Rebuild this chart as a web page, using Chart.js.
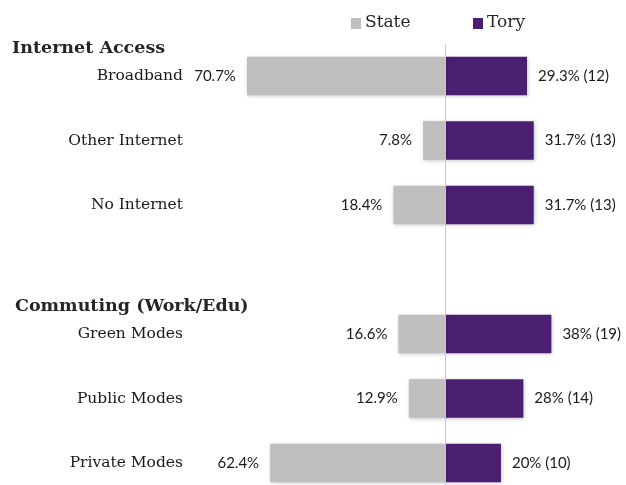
<!DOCTYPE html>
<html lang="en">
<head>
    <meta charset="UTF-8">
    <title>State vs Tory</title>
    <script src="https://cdn.jsdelivr.net/npm/chart.js"></script>
    <style>
        body {
            margin: 0;
            background: #fff;
        }
        #wrap {
            position: relative;
            width: 626px;
            height: 485px;
        }
    </style>
</head>
<body>
    <div id="wrap"><canvas id="chart"></canvas></div>

    <script>
        // data
        const categories = ['Broadband', 'Other Internet', 'No Internet', '', 'Green Modes', 'Public Modes', 'Private Modes'];
        const statePct = [70.7, 7.8, 18.4, null, 16.6, 12.9, 62.4];
        const toryPct = [29.3, 31.7, 31.7, null, 38, 28, 20];
        const toryCount = [12, 13, 13, null, 19, 14, 10];
        const groups = [
            { title: 'Internet Access', row: 0 },
            { title: 'Commuting (Work/Edu)', row: 4 }
        ];

        const grey = '#BFBFBF';
        const purple = '#4A1F72';
        const serif = '"DejaVu Serif", serif';

        // soft shadow under the bars
        const shadowPlugin = {
            id: 'barShadow',
            beforeDatasetsDraw(chart) {
                const ctx = chart.ctx;
                ctx.save();
                ctx.shadowColor = 'rgba(0,0,0,0.22)';
                ctx.shadowBlur = 4;
                ctx.shadowOffsetX = 1;
                ctx.shadowOffsetY = 1;
            },
            afterDatasetsDraw(chart) {
                chart.ctx.restore();
            }
        };

        // centre line, value labels, group titles and legend
        const decoPlugin = {
            id: 'deco',
            afterDraw(chart) {
                const ctx = chart.ctx;
                const x = chart.scales.x;
                const y = chart.scales.y;
                const x0 = x.getPixelForValue(0);

                ctx.save();
                ctx.strokeStyle = '#C6C6C6';
                ctx.lineWidth = 1;
                ctx.beginPath();
                ctx.moveTo(Math.round(x0) + 0.5, 44);
                ctx.lineTo(Math.round(x0) + 0.5, chart.height);
                ctx.stroke();

                ctx.font = '15px Lato';
                ctx.fillStyle = '#1a1a1a';
                ctx.textBaseline = 'middle';
                categories.forEach((c, i) => {
                    if (statePct[i] == null) return;
                    const yy = y.getPixelForValue(i);
                    ctx.textAlign = 'right';
                    ctx.fillText(statePct[i] + '%', x.getPixelForValue(-statePct[i]) - 11, yy);
                    ctx.textAlign = 'left';
                    ctx.fillText(toryPct[i] + '% (' + toryCount[i] + ')', x.getPixelForValue(toryPct[i]) + 11, yy);
                });

                ctx.font = 'bold 17.5px ' + serif;
                ctx.fillStyle = '#262626';
                ctx.textAlign = 'left';
                groups.forEach((g, k) => {
                    ctx.fillText(g.title, k === 0 ? 12 : 15, y.getPixelForValue(g.row) - 28);
                });

                // legend
                ctx.font = '17px ' + serif;
                ctx.fillStyle = grey;
                ctx.fillRect(351, 18, 10, 11);
                ctx.fillStyle = purple;
                ctx.fillRect(473, 18, 10, 11);
                ctx.fillStyle = '#262626';
                ctx.fillText('State', 365, 23);
                ctx.fillText('Tory', 487, 23);
                ctx.restore();
            }
        };

        new Chart(document.getElementById('chart'), {
            type: 'bar',
            data: {
                labels: categories,
                datasets: [{
                    label: 'State',
                    data: statePct.map(v => v == null ? null : -v),
                    backgroundColor: grey,
                    clip: false
                }, {
                    label: 'Tory',
                    data: toryPct,
                    backgroundColor: purple,
                    clip: false
                }]
            },
            options: {
                indexAxis: 'y',
                responsive: true,
                maintainAspectRatio: false,
                animation: false,
                categoryPercentage: 1,
                barPercentage: 0.6,
                layout: {
                    padding: { top: 76, bottom: 22, left: 0, right: 27 }
                },
                plugins: {
                    legend: { display: false },
                    tooltip: { enabled: false }
                },
                scales: {
                    x: {
                        stacked: true,
                        min: -91,
                        max: 55,
                        display: false
                    },
                    y: {
                        stacked: true,
                        offset: false,
                        grid: { display: false, drawTicks: false },
                        border: { display: false },
                        ticks: {
                            padding: 7,
                            color: '#1a1a1a',
                            font: { family: serif, size: 15.5 }
                        },
                        afterFit(scale) {
                            scale.width = 190;
                        }
                    }
                }
            },
            plugins: [shadowPlugin, decoPlugin]
        });
    </script>
</body>
</html>
